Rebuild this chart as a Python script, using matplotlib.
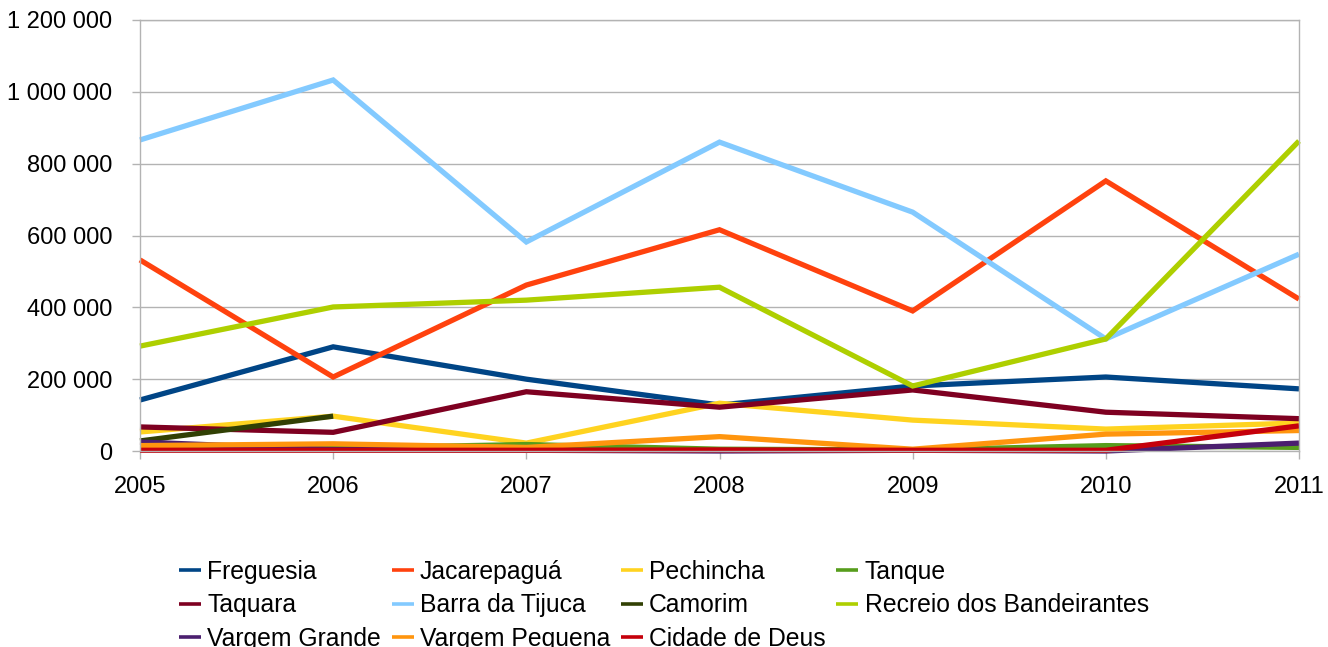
import matplotlib.pyplot as plt
from matplotlib.ticker import FuncFormatter

plt.rcParams['font.family'] = ['Liberation Sans', 'DejaVu Sans']

years = [2005, 2006, 2007, 2008, 2009, 2010, 2011]

freguesia = [142000, 290000, 200000, 128000, 181000, 206000, 173000]
jacarepagua = [532000, 206000, 462000, 616000, 390000, 752000, 423000]
pechincha = [53000, 97000, 22000, 133000, 86000, 61000, 78000]
tanque = [5000, 8000, 18000, 5000, 3000, 15000, 10000]
taquara = [67000, 52000, 165000, 122000, 170000, 108000, 90000]
barra = [866000, 1033000, 582000, 860000, 665000, 312000, 548000]
camorim_years = [2005, 2006]
camorim = [28000, 97000]
recreio = [292000, 401000, 420000, 456000, 181000, 312000, 863000]
vargem_grande = [25000, 4000, 2000, 0, 2000, 0, 22000]
vargem_pequena = [15000, 20000, 10000, 40000, 5000, 47000, 57000]
cidade_de_deus = [2000, 2000, 2000, 3000, 2000, 2000, 70000]

series = [
    ("Freguesia", years, freguesia, '#004586'),
    ("Jacarepaguá", years, jacarepagua, '#ff420e'),
    ("Pechincha", years, pechincha, '#ffd320'),
    ("Tanque", years, tanque, '#579d1c'),
    ("Taquara", years, taquara, '#7e0021'),
    ("Barra da Tijuca", years, barra, '#83caff'),
    ("Camorim", camorim_years, camorim, '#314004'),
    ("Recreio dos Bandeirantes", years, recreio, '#aecf00'),
    ("Vargem Grande", years, vargem_grande, '#4b1f6f'),
    ("Vargem Pequena", years, vargem_pequena, '#ff950e'),
    ("Cidade de Deus", years, cidade_de_deus, '#c5000b'),
]

GRID = '#b3b3b3'

fig = plt.figure(figsize=(13.28, 6.47), dpi=100)
ax = fig.add_axes([140 / 1328, 1 - 451 / 647, 1159 / 1328, 431 / 647])

handles = []
for name, xs, ys, color in series:
    h, = ax.plot(xs, ys, color=color, linewidth=3.8, label=name,
                 solid_joinstyle='miter', solid_capstyle='butt', clip_on=False)
    handles.append(h)

ax.set_xlim(2005, 2011)
ax.set_ylim(0, 1200000)
ax.set_xticks(years)
ax.set_yticks(range(0, 1200001, 200000))
ax.yaxis.set_major_formatter(FuncFormatter(lambda v, p: f"{int(v):,}".replace(",", " ")))
ax.grid(axis='y', color=GRID, linewidth=1)
ax.set_axisbelow(True)
ax.tick_params(colors=GRID, labelcolor='black', labelsize=17, length=6, width=1)
ax.tick_params(axis='x', pad=12)
ax.tick_params(axis='y', pad=14)
for spine in ax.spines.values():
    spine.set_color(GRID)
    spine.set_linewidth(1)

# row-wise legend order
order = [0, 4, 8, 1, 5, 9, 2, 6, 10, 3, 7]
leg = fig.legend([handles[i] for i in order], [series[i][0] for i in order],
                 ncol=4, loc='upper left', bbox_to_anchor=(179 / 1328, 1 - 560 / 647),
                 frameon=False, fontsize=17.8, handlelength=0.9, handletextpad=0.25,
                 columnspacing=0.42, labelspacing=0.38, borderpad=0, borderaxespad=0)
for lh in leg.legend_handles:
    lh.set_linewidth(2.6)

fig.savefig('out.png', dpi=100)
